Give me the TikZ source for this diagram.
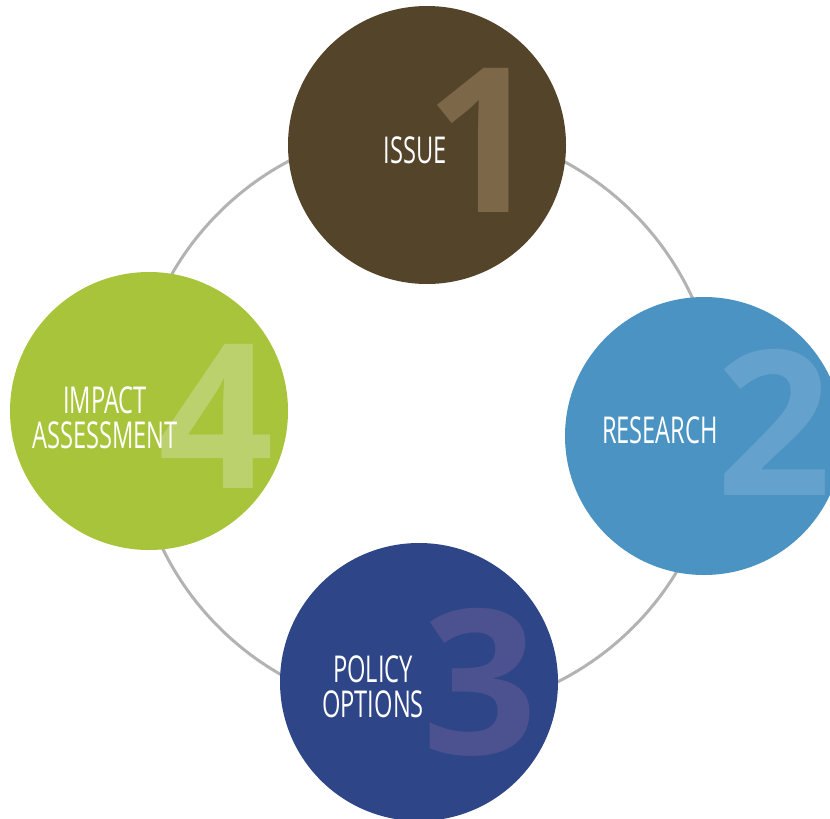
\documentclass[tikz,border=0pt]{standalone}
\usepackage{fontspec}
\newfontfamily\labelfont[FakeStretch=0.64]{Open Sans}
\newfontfamily\digitfont{Open Sans}
\definecolor{ringgray}{HTML}{B3B3B3}
\definecolor{issuecol}{HTML}{54442A}
\definecolor{issuedig}{HTML}{7D6749}
\definecolor{rescol}{HTML}{4A93C3}
\definecolor{resdig}{HTML}{64A1CC}
\definecolor{polcol}{HTML}{2E4587}
\definecolor{poldig}{HTML}{4C5290}
\definecolor{impcol}{HTML}{A8C43A}
\definecolor{impdig}{HTML}{BBD16E}
\tikzset{
  stage/.style={circle, inner sep=0pt, minimum size=278pt},
  bignum/.style={inner sep=0pt, font=\digitfont\bfseries\fontsize{202}{202}\selectfont},
  stagelabel/.style={inner sep=0pt, text=white, align=center, font=\labelfont\fontsize{37}{35}\selectfont},
  ring/.style={draw=ringgray, line width=3pt}
}
\begin{document}
\begin{tikzpicture}[x=1pt,y=-1pt]
\useasboundingbox (0,0) rectangle (830,819);
\coordinate (rc) at (426,420);
\draw[ring] (rc) circle (293);
\node[stage, fill=issuecol] (issue) at (427,145) {};
\node[stage, fill=rescol] (research) at (704,436) {};
\node[stage, fill=polcol] (policy) at (419,682) {};
\node[stage, fill=impcol] (impact) at (149,411) {};
\node[bignum, text=issuedig] (n1) at (483,140) {1};
\node[bignum, text=resdig] (n2) at (774,422) {2};
\node[bignum, text=poldig] (n3) at (480,682) {3};
\node[bignum, text=impdig] (n4) at (216,416) {4};
\node[stagelabel] (l1) at (415,150) {ISSUE};
\node[stagelabel] (l2) at (660,430) {RESEARCH};
\node[stagelabel] (l3) at (373,687) {POLICY\\OPTIONS};
\node[stagelabel] (l4) at (105,418) {IMPACT\\ASSESSMENT};
\end{tikzpicture}
\end{document}
